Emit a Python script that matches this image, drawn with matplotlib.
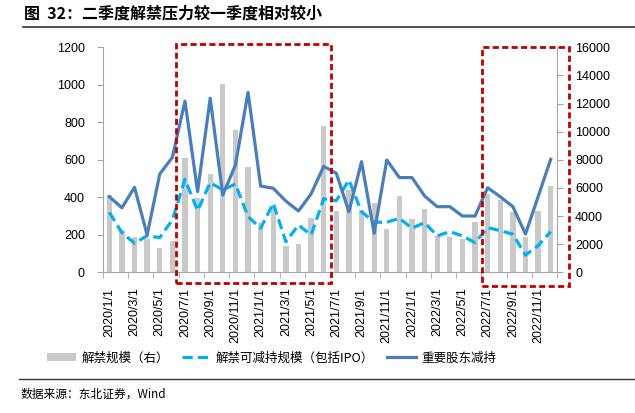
import numpy as np
import matplotlib
matplotlib.use("Agg")
import matplotlib.pyplot as plt
from matplotlib.patches import Rectangle, Patch
from matplotlib.lines import Line2D

plt.rcParams["font.family"] = ["Noto Sans CJK SC", "DejaVu Sans"]

# months 2020/1 .. 2022/12
months = [f"{y}/{m}/1" for y in (2020, 2021, 2022) for m in range(1, 13)]

# 解禁规模 (right axis)
unlock_size = [5500, 3000, 2490, 2370, 1750, 2230, 8100, 5260, 6990, 13370, 10150, 7510,
               3530, 4700, 1870, 2010, 3840, 10400, 4360, 5850, 4400, 4950, 3060, 5430,
               3820, 4500, 2560, 2540, 2350, 3600, 5570, 5140, 4310, 2540, 4360, 6140]
# 解禁可减持规模（包括IPO） (left axis)
reducible = [320, 211, 155, 195, 185, 279, 496, 329, 478, 439, 471, 297,
             235, 368, 163, 252, 199, 392, 382, 492, 323, 267, 267, 288,
             235, 265, 194, 217, 194, 158, 238, 222, 203, 92, 142, 217]
# 重要股东减持 (left axis)
holder_sell = [403, 344, 453, 199, 524, 613, 913, 430, 928, 412, 572, 960,
               460, 448, 380, 327, 418, 565, 528, 323, 590, 208, 599, 505,
               505, 407, 350, 350, 300, 300, 451, 403, 350, 204, 403, 603]

BAR_C = "#C9C9C9"
DASH_C = "#00B0F0"
LINE_C = "#4A7EBB"
RED = "#C00000"
AX_C = "#A6A6A6"

fig = plt.figure(figsize=(6.35, 4.13), dpi=100)
ax = fig.add_axes([0.1622, 0.3407, 0.715, 0.5448])
ax2 = ax.twinx()

x = np.arange(len(months))
ax2.bar(x, unlock_size, width=0.42, color=BAR_C, zorder=1)
ax.plot(x, reducible, color=DASH_C, lw=2.3, ls=(0, (3.2, 1.6)), zorder=3)
ax.plot(x, holder_sell, color=LINE_C, lw=2.3, zorder=4)

ax.set_zorder(ax2.get_zorder() + 1)
ax.patch.set_visible(False)

ax.set_xlim(-0.5, len(months) - 0.5)
ax.set_ylim(0, 1200)
ax2.set_ylim(0, 16000)
ax.set_yticks(np.arange(0, 1201, 200))
ax2.set_yticks(np.arange(0, 16001, 2000))

ax.set_xticks(x[::2])
ax.set_xticklabels(months[::2], rotation=90, fontsize=9, family="Liberation Sans")
ax.set_xticks(np.arange(-0.5, len(months), 2), minor=True)
ax.tick_params(axis="x", which="major", length=0, pad=11)
ax.tick_params(axis="x", which="minor", length=4, color=AX_C, direction="out")
ax.tick_params(axis="y", length=4, color=AX_C, pad=9, labelsize=9)
ax2.tick_params(axis="y", length=4, color=AX_C, pad=9, labelsize=9)
for lab in ax.get_yticklabels() + ax2.get_yticklabels():
    lab.set_family("Liberation Sans")

for a in (ax, ax2):
    a.spines["top"].set_visible(False)
    for s in ("left", "right", "bottom"):
        a.spines[s].set_color(AX_C)
ax.spines["right"].set_visible(False)
ax2.spines["left"].set_visible(False)
ax2.spines["bottom"].set_visible(False)

# highlight boxes
for x0, x1, y0, y1 in [(5.25, 17.57, -55, 1217), (29.58, 36.43, -73, 1203)]:
    ax.add_patch(Rectangle((x0, y0), x1 - x0, y1 - y0, fill=False, ec=RED, lw=2,
                           ls=(0, (2.2, 1.2)), clip_on=False, zorder=6))

handles = [Patch(fc=BAR_C, ec="none"),
           Line2D([], [], color=DASH_C, lw=2.3, ls=(0, (3.2, 1.6))),
           Line2D([], [], color=LINE_C, lw=2.3)]
labels = ["解禁规模（右）", "解禁可减持规模（包括IPO）", "重要股东减持"]
fig.legend(handles, labels, loc="center", bbox_to_anchor=(0.428, 0.133), ncol=3,
           frameon=False, fontsize=9, handlelength=2.3, handleheight=0.6,
           handletextpad=0.45, columnspacing=1.0)

fig.text(0.038, 0.968, "图  32：二季度解禁压力较一季度相对较小", fontsize=11.5,
         fontweight="bold", va="center", ha="left")
fig.add_artist(Line2D([0.036, 1.0], [0.934, 0.934], color="#333333", lw=1.2))
fig.add_artist(Line2D([0.03, 1.0], [0.082, 0.082], color="#333333", lw=1.0))
fig.text(0.032, 0.046, "数据来源：东北证券，Wind", fontsize=8.5, va="center", ha="left")

fig.savefig("out.png", dpi=100)
